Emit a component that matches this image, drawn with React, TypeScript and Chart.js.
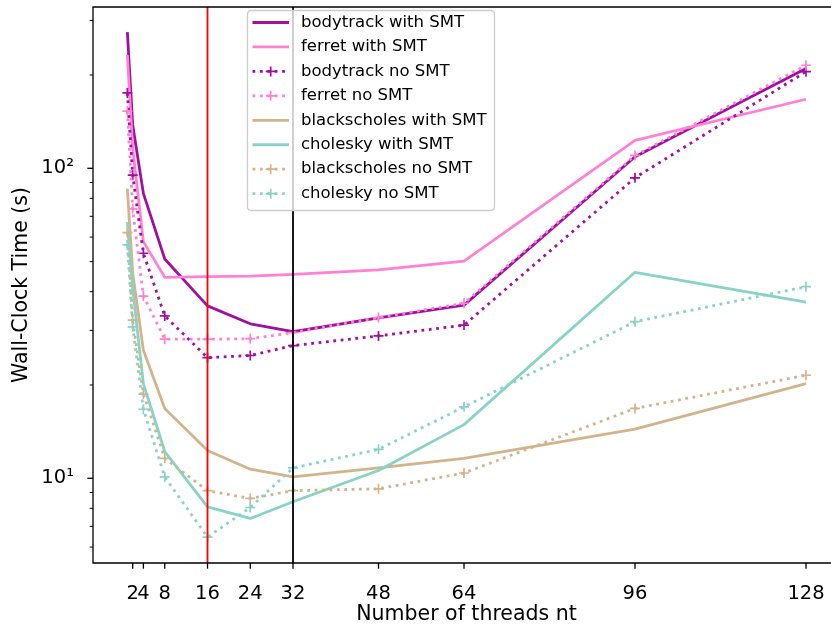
import React, { useEffect, useRef } from "react";
import { Chart, registerables } from "chart.js";
Chart.register(...registerables);

const FONT = "'DejaVu Sans', sans-serif";

const threads = [1, 2, 4, 8, 16, 24, 32, 48, 64, 96, 128];
const xTickValues = [2, 4, 8, 16, 24, 32, 48, 64, 96, 128];
const yMajorTicks = [10, 100];
const yMajorLabels = ["10¹", "10²"];
const yMinorTicks = [6, 7, 8, 9, 20, 30, 40, 50, 60, 70, 80, 90, 200, 300];
const markerLines = [16, 32];
const xTitle = "Number of threads nt";

const bodytrackSMT = [275, 138, 83, 51, 36.0, 31.5, 29.7, 32.9, 36.2, 109, 210];
const ferretSMT = [232, 116, 58, 44.5, 44.7, 44.9, 45.5, 47.0, 50.2, 123, 167];
const bodytrackNoSMT = [175, 95, 53.2, 33.4, 24.5, 24.9, 26.8, 28.8, 31.2, 93.2, 205];
const ferretNoSMT = [153, 74, 38.7, 28.1, 28.1, 28.2, 29.5, 33.0, 36.7, 110, 215];
const blackscholesSMT = [86, 46, 25.9, 16.8, 12.3, 10.7, 10.1, 10.8, 11.6, 14.4, 20.2];
const choleskySMT = [67, 41, 20.2, 12.2, 8.09, 7.42, 8.4, 10.6, 14.9, 46.2, 37.0];
const blackscholesNoSMT = [62, 32.4, 18.7, 11.6, 9.12, 8.61, 9.12, 9.25, 10.4, 16.8, 21.5];
const choleskyNoSMT = [56.6, 30.8, 16.7, 10.1, 6.46, 8.05, 10.8, 12.4, 17.0, 32.0, 41.5];

const C_BODY = "#a0109f";
const C_FERRET = "#ff80d4";
const C_BLACK = "#d2b48c";
const C_CHOL = "#88d3c5";

const series = [
  { label: "bodytrack with SMT", data: bodytrackSMT, color: C_BODY, dotted: false },
  { label: "ferret with SMT", data: ferretSMT, color: C_FERRET, dotted: false },
  { label: "bodytrack no SMT", data: bodytrackNoSMT, color: C_BODY, dotted: true },
  { label: "ferret no SMT", data: ferretNoSMT, color: C_FERRET, dotted: true },
  { label: "blackscholes with SMT", data: blackscholesSMT, color: C_BLACK, dotted: false },
  { label: "cholesky with SMT", data: choleskySMT, color: C_CHOL, dotted: false },
  { label: "blackscholes no SMT", data: blackscholesNoSMT, color: C_BLACK, dotted: true },
  { label: "cholesky no SMT", data: choleskyNoSMT, color: C_CHOL, dotted: true },
];

const LW = 2.8;
const DASH = [2.8, 4.6];

const X2_PX = 132.7;
const X128_PX = 806;
const Y100_PX = 168.3;
const Y10_PX = 478.3;

const zeroPad = (s: any) => {
  s.paddingTop = 0;
  s.paddingBottom = 0;
  s.paddingLeft = 0;
  s.paddingRight = 0;
};

const decor = {
  id: "decor",
  afterDatasetsDraw(chart: any) {
    const { ctx, chartArea: a, scales } = chart;
    const x = scales.x;
    const y = scales.y;
    ctx.save();
    ctx.setLineDash([]);
    // the reference axes run past the right edge of the image: keep that edge clear
    ctx.fillStyle = "#fff";
    ctx.fillRect(827, 0, chart.width - 827 + 5, chart.height);
    const vcolors = ["#ff0000", "#000000"];
    markerLines.forEach((v, i) => {
      const px = x.getPixelForValue(v);
      ctx.strokeStyle = vcolors[i];
      ctx.lineWidth = 1.8;
      ctx.beginPath();
      ctx.moveTo(px, a.top);
      ctx.lineTo(px, a.bottom);
      ctx.stroke();
    });
    ctx.strokeStyle = "#000";
    ctx.lineWidth = 1.3;
    ctx.beginPath();
    ctx.moveTo(chart.width + 2, a.top);
    ctx.lineTo(a.left, a.top);
    ctx.lineTo(a.left, a.bottom);
    ctx.lineTo(chart.width + 2, a.bottom);
    ctx.stroke();
    xTickValues.forEach((v) => {
      const px = x.getPixelForValue(v);
      ctx.beginPath();
      ctx.moveTo(px, a.bottom);
      ctx.lineTo(px, a.bottom + 5.7);
      ctx.stroke();
    });
    yMajorTicks.forEach((v) => {
      const py = y.getPixelForValue(v);
      ctx.beginPath();
      ctx.moveTo(a.left, py);
      ctx.lineTo(a.left - 5.7, py);
      ctx.stroke();
    });
    ctx.lineWidth = 1;
    yMinorTicks.forEach((v) => {
      const py = y.getPixelForValue(v);
      if (py < a.top || py > a.bottom) return;
      ctx.beginPath();
      ctx.moveTo(a.left, py);
      ctx.lineTo(a.left - 3.3, py);
      ctx.stroke();
    });
    ctx.restore();
  },
  afterDraw(chart: any) {
    const { ctx } = chart;
    ctx.save();
    ctx.font = "20.5px " + FONT;
    ctx.fillStyle = "#000";
    ctx.textAlign = "center";
    ctx.textBaseline = "middle";
    ctx.fillText(xTitle, 466.5, 615);
    const lx = 247.5, ly = 10.5, lw = 247, lh = 200, r = 4;
    ctx.beginPath();
    ctx.moveTo(lx + r, ly);
    ctx.lineTo(lx + lw - r, ly);
    ctx.quadraticCurveTo(lx + lw, ly, lx + lw, ly + r);
    ctx.lineTo(lx + lw, ly + lh - r);
    ctx.quadraticCurveTo(lx + lw, ly + lh, lx + lw - r, ly + lh);
    ctx.lineTo(lx + r, ly + lh);
    ctx.quadraticCurveTo(lx, ly + lh, lx, ly + lh - r);
    ctx.lineTo(lx, ly + r);
    ctx.quadraticCurveTo(lx, ly, lx + r, ly);
    ctx.closePath();
    ctx.fillStyle = "rgba(255,255,255,0.8)";
    ctx.fill();
    ctx.strokeStyle = "#cccccc";
    ctx.lineWidth = 1.3;
    ctx.stroke();
    const y0 = 22.5, dy = 24.45;
    ctx.font = "16.5px " + FONT;
    ctx.textBaseline = "middle";
    ctx.textAlign = "left";
    series.forEach((s, i) => {
      const yy = y0 + i * dy;
      ctx.strokeStyle = s.color;
      ctx.lineWidth = LW;
      ctx.lineCap = "butt";
      ctx.setLineDash(s.dotted ? DASH : []);
      ctx.beginPath();
      ctx.moveTo(252.5, yy);
      ctx.lineTo(289, yy);
      ctx.stroke();
      if (s.dotted) {
        ctx.setLineDash([]);
        ctx.lineWidth = 1.7;
        const cx = 270.7;
        ctx.beginPath();
        ctx.moveTo(cx - 5, yy);
        ctx.lineTo(cx + 5, yy);
        ctx.moveTo(cx, yy - 5);
        ctx.lineTo(cx, yy + 5);
        ctx.stroke();
      }
      ctx.fillStyle = "#000";
      ctx.fillText(s.label, 301, yy);
    });
    ctx.restore();
  },
};

export default function App() {
  const ref = useRef<HTMLCanvasElement>(null);
  useEffect(() => {
    if (!ref.current) return;
    const datasets = series.map((s, i) => ({
      label: s.label,
      data: threads.map((t, j) => ({ x: t, y: s.data[j] })),
      borderColor: s.color,
      backgroundColor: s.color,
      borderWidth: LW,
      borderDash: s.dotted ? DASH : [],
      borderCapStyle: "butt" as const,
      borderJoinStyle: "round" as const,
      pointStyle: "cross" as const,
      pointRadius: s.dotted ? 5 : 0,
      pointHoverRadius: 0,
      pointBorderWidth: 1.7,
      pointBorderColor: s.color,
      tension: 0,
      fill: false,
      order: series.length - i,
    }));
    const chart: any = new Chart(ref.current, {
      type: "line",
      data: { datasets },
      options: {
        animation: false,
        responsive: false,
        events: [],
        layout: { padding: { top: 7, right: 0, left: 0, bottom: 0 } },
        plugins: { legend: { display: false }, tooltip: { enabled: false } },
        scales: {
          x: {
            type: "linear",
            min: -5.43,
            max: 132.68,
            bounds: "data",
            grid: { display: false },
            border: { display: false },
            afterBuildTicks: (s: any) => {
              s.ticks = xTickValues.map((v) => ({ value: v }));
            },
            afterFit: (s: any) => {
              s.height = 64;
              zeroPad(s);
            },
            ticks: {
              autoSkip: false,
              maxRotation: 0,
              minRotation: 0,
              padding: 11,
              color: "#000",
              font: { family: FONT, size: 19.5 },
              callback: (v: any) => String(v),
            },
            title: { display: false },
          },
          y: {
            type: "logarithmic",
            min: 5.33,
            max: 331,
            bounds: "data",
            grid: { display: false },
            border: { display: false },
            afterBuildTicks: (s: any) => {
              s.ticks = yMajorTicks.map((v) => ({ value: v }));
            },
            afterFit: (s: any) => {
              s.width = 93;
              zeroPad(s);
            },
            ticks: {
              autoSkip: false,
              padding: 11,
              color: "#000",
              font: { family: FONT, size: 19.5 },
              callback: (v: any) => {
                const i = yMajorTicks.indexOf(Number(v));
                return i >= 0 ? yMajorLabels[i] : "";
              },
            },
            title: {
              display: true,
              text: "Wall-Clock Time (s)",
              color: "#000",
              font: { family: FONT, size: 20.5 },
              padding: { top: 9, bottom: 0 },
            },
          },
        },
      } as any,
      plugins: [decor],
    });
    const a = chart.chartArea;
    const ux = (X128_PX - X2_PX) / (128 - 2);
    chart.options.scales.x.min = 2 - (X2_PX - a.left) / ux;
    chart.options.scales.x.max = 2 + (a.right - X2_PX) / ux;
    const dec = Y10_PX - Y100_PX;
    chart.options.scales.y.max = Math.pow(10, 2 + (Y100_PX - a.top) / dec);
    chart.options.scales.y.min = Math.pow(10, 1 - (a.bottom - Y10_PX) / dec);
    chart.update();
    return () => chart.destroy();
  }, []);
  return (
    <div style={{ position: "fixed", left: 0, top: 0, width: 831, height: 627, overflow: "hidden", background: "#fff" }}>
      <canvas ref={ref} width={831} height={627} style={{ display: "block", width: 831, height: 627 }} />
    </div>
  );
}
